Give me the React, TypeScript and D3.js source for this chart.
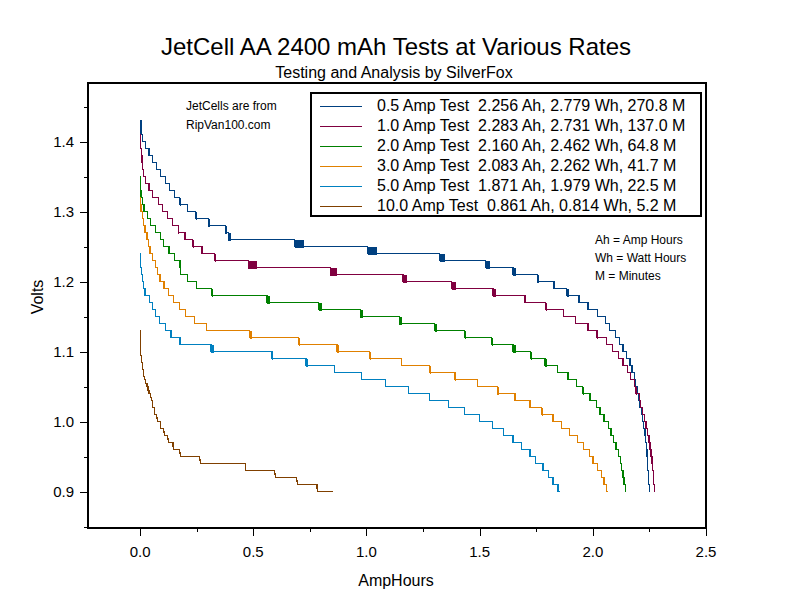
import React from "react";
import * as d3 from "d3";

// [AmpHours, Volts, flickerWidth?]
type Pt = [number, number, number?];

const amp05: Pt[] = [
  [0, 1.43], [0.004, 1.41], [0.010, 1.40], [0.025, 1.39], [0.040, 1.38], [0.055, 1.37],
  [0.074, 1.36], [0.091, 1.35], [0.111, 1.34], [0.130, 1.33], [0.152, 1.32], [0.175, 1.31, 0.006],
  [0.211, 1.30], [0.245, 1.29, 0.006], [0.302, 1.28, 0.009], [0.377, 1.27, 0.008], [0.390, 1.26, 0.010],
  [0.683, 1.25, 0.040], [1.006, 1.24, 0.042], [1.324, 1.23, 0.021], [1.527, 1.22, 0.018],
  [1.647, 1.21, 0.012], [1.755, 1.20, 0.009], [1.829, 1.19], [1.884, 1.18, 0.009], [1.939, 1.17],
  [1.979, 1.16], [2.021, 1.15], [2.055, 1.14], [2.075, 1.13], [2.099, 1.12], [2.117, 1.11],
  [2.134, 1.10], [2.149, 1.09], [2.164, 1.08], [2.173, 1.07], [2.183, 1.06], [2.190, 1.05],
  [2.198, 1.04], [2.202, 1.03], [2.208, 1.02], [2.214, 1.01], [2.220, 1.00], [2.224, 0.99],
  [2.230, 0.98], [2.233, 0.97], [2.236, 0.96], [2.239, 0.95], [2.241, 0.94], [2.243, 0.93],
  [2.245, 0.92], [2.247, 0.91], [2.249, 0.90], [2.252, 0.90],
];

const amp10: Pt[] = [
  [0, 1.41], [0.001, 1.40], [0.003, 1.39], [0.005, 1.38], [0.008, 1.37], [0.012, 1.36],
  [0.015, 1.35], [0.025, 1.34], [0.040, 1.33], [0.054, 1.32], [0.081, 1.31], [0.099, 1.30],
  [0.122, 1.29], [0.143, 1.28], [0.169, 1.27, 0.004], [0.199, 1.26], [0.233, 1.25, 0.006],
  [0.273, 1.24], [0.329, 1.23, 0.008], [0.479, 1.22, 0.037], [0.841, 1.21, 0.030],
  [1.161, 1.20, 0.019], [1.376, 1.19, 0.021], [1.559, 1.18, 0.012], [1.700, 1.17],
  [1.792, 1.16, 0.007], [1.869, 1.15], [1.925, 1.14], [1.979, 1.13], [2.018, 1.12, 0.006],
  [2.059, 1.11], [2.087, 1.10], [2.112, 1.09], [2.134, 1.08], [2.153, 1.07], [2.168, 1.06],
  [2.183, 1.05], [2.190, 1.04, 0.007], [2.205, 1.03], [2.212, 1.02], [2.220, 1.01],
  [2.227, 1.00], [2.235, 0.99], [2.242, 0.98], [2.248, 0.97], [2.252, 0.96], [2.257, 0.95],
  [2.261, 0.94], [2.264, 0.93], [2.267, 0.92], [2.269, 0.91], [2.271, 0.90], [2.275, 0.90],
];

const amp20: Pt[] = [
  [0, 1.35], [0.002, 1.33], [0.004, 1.32], [0.010, 1.31], [0.018, 1.30], [0.032, 1.29],
  [0.047, 1.28], [0.069, 1.27], [0.091, 1.26], [0.103, 1.25], [0.128, 1.24], [0.152, 1.23],
  [0.177, 1.22], [0.180, 1.21], [0.211, 1.20], [0.248, 1.19], [0.317, 1.18, 0.007],
  [0.561, 1.17, 0.015], [0.789, 1.16, 0.015], [0.973, 1.15, 0.012], [1.146, 1.14, 0.012],
  [1.301, 1.13, 0.012], [1.434, 1.12, 0.008], [1.553, 1.11, 0.007], [1.647, 1.10, 0.012],
  [1.726, 1.09, 0.007], [1.789, 1.08, 0.008], [1.844, 1.07], [1.891, 1.06], [1.928, 1.05],
  [1.955, 1.04, 0.007], [1.988, 1.03], [2.016, 1.02], [2.032, 1.01], [2.050, 1.00],
  [2.068, 0.99], [2.080, 0.98], [2.090, 0.97], [2.102, 0.96], [2.112, 0.95], [2.121, 0.94],
  [2.127, 0.93], [2.134, 0.92], [2.138, 0.91], [2.143, 0.90], [2.147, 0.90],
];

const amp30: Pt[] = [
  [0, 1.32], [0.002, 1.31], [0.004, 1.30], [0.010, 1.29], [0.015, 1.28], [0.022, 1.27],
  [0.030, 1.26], [0.037, 1.25], [0.044, 1.24], [0.055, 1.23], [0.069, 1.22], [0.076, 1.21],
  [0.088, 1.20], [0.106, 1.19], [0.125, 1.18], [0.147, 1.17], [0.174, 1.16], [0.202, 1.15],
  [0.239, 1.14], [0.295, 1.13], [0.484, 1.12, 0.010], [0.700, 1.11, 0.008], [0.870, 1.10, 0.007],
  [1.015, 1.09, 0.007], [1.155, 1.08], [1.279, 1.07, 0.008], [1.391, 1.06, 0.006], [1.492, 1.05],
  [1.578, 1.04, 0.006], [1.656, 1.03], [1.723, 1.02], [1.774, 1.01, 0.007], [1.824, 1.00],
  [1.863, 0.99], [1.898, 0.98], [1.932, 0.97], [1.959, 0.96], [1.984, 0.95], [2.001, 0.94],
  [2.021, 0.93], [2.038, 0.92], [2.050, 0.91], [2.059, 0.90], [2.065, 0.90],
];

const amp50: Pt[] = [
  [0, 1.24], [0.001, 1.23], [0.003, 1.22], [0.005, 1.21], [0.010, 1.20], [0.015, 1.19],
  [0.022, 1.18], [0.041, 1.17], [0.054, 1.16], [0.069, 1.15], [0.085, 1.14], [0.111, 1.13],
  [0.136, 1.12], [0.176, 1.11], [0.314, 1.10, 0.013], [0.583, 1.09, 0.004], [0.733, 1.08, 0.007],
  [0.860, 1.07], [0.978, 1.06], [1.084, 1.05], [1.187, 1.04], [1.280, 1.03], [1.362, 1.02],
  [1.432, 1.01], [1.500, 1.00], [1.556, 0.99], [1.606, 0.98], [1.647, 0.97], [1.686, 0.96],
  [1.723, 0.95], [1.748, 0.94], [1.780, 0.93], [1.804, 0.92], [1.824, 0.91], [1.846, 0.90],
  [1.855, 0.90],
];

const amp100: Pt[] = [
  [0, 1.13], [0.0005, 1.105], [0.001, 1.095], [0.006, 1.085], [0.010, 1.075], [0.015, 1.065],
  [0.019, 1.06], [0.025, 1.055], [0.030, 1.05], [0.035, 1.045], [0.040, 1.04], [0.046, 1.035],
  [0.050, 1.03], [0.055, 1.02], [0.063, 1.01], [0.072, 1.005], [0.077, 1.00], [0.091, 0.99],
  [0.105, 0.985], [0.109, 0.98], [0.122, 0.975], [0.127, 0.97], [0.145, 0.965], [0.148, 0.96],
  [0.175, 0.955], [0.178, 0.95], [0.263, 0.945], [0.267, 0.94], [0.466, 0.93], [0.594, 0.925],
  [0.599, 0.92], [0.692, 0.915], [0.695, 0.91], [0.782, 0.905], [0.784, 0.90], [0.853, 0.90],
];

const seriesData: Pt[][] = [amp05, amp10, amp20, amp30, amp50, amp100];
const seriesColors = ["#004080", "#800040", "#008000", "#e08000", "#0080c0", "#804000"];
const legendLabels = [
  "0.5 Amp Test  2.256 Ah, 2.779 Wh, 270.8 M",
  "1.0 Amp Test  2.283 Ah, 2.731 Wh, 137.0 M",
  "2.0 Amp Test  2.160 Ah, 2.462 Wh, 64.8 M",
  "3.0 Amp Test  2.083 Ah, 2.262 Wh, 41.7 M",
  "5.0 Amp Test  1.871 Ah, 1.979 Wh, 22.5 M",
  "10.0 Amp Test  0.861 Ah, 0.814 Wh, 5.2 M",
];
const xMajorTicks = [0, 0.5, 1.0, 1.5, 2.0, 2.5];
const xMinorTicks = [0.25, 0.75, 1.25, 1.75, 2.25];
const yMajorTicks = [0.9, 1.0, 1.1, 1.2, 1.3, 1.4];
const yMinorTicks = [0.85, 0.95, 1.05, 1.15, 1.25, 1.35, 1.45];
const sourceNote = ["JetCells are from", "RipVan100.com"];
const abbrevNote = ["Ah = Amp Hours", "Wh = Watt Hours", "M = Minutes"];

const FONT = "'Liberation Sans', Arial, Helvetica, sans-serif";

export default function App() {
  const W = 792, H = 611;
  const left = 88, right = 706, top = 83, bottom = 528;
  const x = d3.scaleLinear().domain([-0.23, 2.5]).range([left, right]);
  const y = d3.scaleLinear().domain([0.848, 1.484]).range([bottom, top]);
  const line = d3
    .line<Pt>()
    .x((d) => x(d[0]))
    .y((d) => y(d[1]))
    .curve(d3.curveStepAfter);
  const crisp = (v: number) => Math.round(v) + 0.5;

  return (
    <svg
      width={W}
      height={H}
      viewBox={`0 0 ${W} ${H}`}
      style={{ position: "absolute", left: 0, top: 0, background: "#fff", fontFamily: FONT }}
    >
      <rect x={0} y={0} width={W} height={H} fill="#fff" />
      <text x={396} y={55} fontSize={24} textAnchor="middle" fill="#000">
        JetCell AA 2400 mAh Tests at Various Rates
      </text>
      <text x={394} y={78} fontSize={16} textAnchor="middle" fill="#000">
        Testing and Analysis by SilverFox
      </text>

      {/* curves */}
      <g>
        {seriesData.map((data, i) => (
          <g key={i}>
            <path
              d={line(data) || ""}
              fill="none"
              stroke={seriesColors[i]}
              strokeWidth={1.3}
              shapeRendering="crispEdges"
            />
            {data.map((d, j) =>
              d[2] && j > 0 ? (
                <rect
                  key={j}
                  x={x(d[0])}
                  y={y(data[j - 1][1])}
                  width={x(d[0] + (d[2] as number)) - x(d[0])}
                  height={y(d[1]) - y(data[j - 1][1]) + 1}
                  fill={seriesColors[i]}
                  shapeRendering="crispEdges"
                />
              ) : null
            )}
          </g>
        ))}
      </g>

      {/* frame */}
      <rect
        x={left}
        y={top}
        width={right - left}
        height={bottom - top}
        fill="none"
        stroke="#000"
        strokeWidth={2}
      />

      {/* y axis */}
      <g stroke="#000" strokeWidth={1} shapeRendering="crispEdges">
        {yMajorTicks.map((t) => (
          <line key={"ym" + t} x1={left - 8} x2={left} y1={crisp(y(t))} y2={crisp(y(t))} />
        ))}
        {yMinorTicks.map((t) => (
          <line key={"yn" + t} x1={left - 4} x2={left} y1={crisp(y(t))} y2={crisp(y(t))} />
        ))}
        {xMajorTicks.map((t) => (
          <line key={"xm" + t} x1={crisp(x(t))} x2={crisp(x(t))} y1={bottom} y2={bottom + 8} />
        ))}
        {xMinorTicks.map((t) => (
          <line key={"xn" + t} x1={crisp(x(t))} x2={crisp(x(t))} y1={bottom} y2={bottom + 4} />
        ))}
      </g>
      <g fontSize={15} fill="#000">
        {yMajorTicks.map((t) => (
          <text key={"yl" + t} x={left - 14} y={y(t) + 5} textAnchor="end">
            {d3.format(".1f")(t)}
          </text>
        ))}
        {xMajorTicks.map((t) => (
          <text key={"xl" + t} x={x(t)} y={557} textAnchor="middle">
            {d3.format(".1f")(t)}
          </text>
        ))}
      </g>
      <text x={396} y={586} fontSize={16} textAnchor="middle" fill="#000">
        AmpHours
      </text>
      <text
        transform="translate(43,297) rotate(-90)"
        fontSize={16}
        textAnchor="middle"
        fill="#000"
      >
        Volts
      </text>

      {/* legend */}
      <rect x={311} y={93} width={390} height={123} fill="#fff" stroke="#000" strokeWidth={2} />
      {legendLabels.map((lab, i) => {
        const cy = 106 + i * 20;
        return (
          <g key={"lg" + i}>
            <line
              x1={320}
              x2={362}
              y1={cy + 0.5}
              y2={cy + 0.5}
              stroke={seriesColors[i]}
              strokeWidth={1}
              shapeRendering="crispEdges"
            />
            <text
              x={377}
              y={cy + 5}
              fontSize={16}
              fill="#000"
              xmlSpace="preserve"
              style={{ whiteSpace: "pre" }}
            >
              {lab}
            </text>
          </g>
        );
      })}

      {/* notes */}
      {sourceNote.map((s, i) => (
        <text key={"sn" + i} x={186} y={110 + i * 18.5} fontSize={12} fill="#000">
          {s}
        </text>
      ))}
      {abbrevNote.map((s, i) => (
        <text key={"an" + i} x={595} y={243.5 + i * 18.3} fontSize={12} fill="#000">
          {s}
        </text>
      ))}
    </svg>
  );
}
